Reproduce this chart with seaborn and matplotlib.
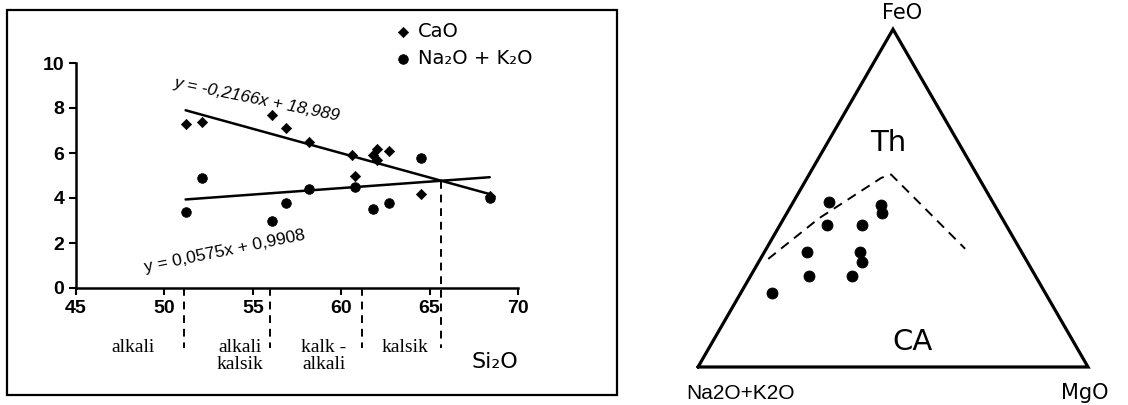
import numpy as np
import pandas as pd
import matplotlib
matplotlib.use("Agg")
import matplotlib.pyplot as plt
import seaborn as sns
from matplotlib.patches import Rectangle

# ---------------- data (left panel) ----------------
cao_sio2 = [51.2, 52.1, 56.1, 56.9, 58.2, 60.6, 60.8, 61.8, 62.0, 62.0, 62.7, 64.5, 68.4]
cao_val = [7.3, 7.4, 7.7, 7.1, 6.5, 5.9, 5.0, 5.9, 6.2, 5.7, 6.1, 4.2, 4.1]
alk_sio2 = [51.2, 52.1, 56.1, 56.9, 58.2, 60.8, 61.8, 62.7, 64.5, 68.4]
alk_val = [3.4, 4.9, 3.0, 3.8, 4.4, 4.5, 3.5, 3.8, 5.8, 4.0]
fit_slopes = [-0.2166, 0.0575]
fit_intercepts = [18.989, 0.9908]
fit_range = [51.2, 68.4]
fit_labels = ["y = -0,2166x + 18,989", "y = 0,0575x + 0,9908"]
boundaries = [51.1, 56.0, 61.2]
series_names = ["CaO", "Na\u2082O + K\u2082O"]
class_names = ["alkali", "alkali\nkalsik", "kalk -\nalkali", "kalsik"]
class_pos = [48.2, 54.3, 59.0, 63.6]
x_ticks = [45, 50, 55, 60, 65, 70]
y_ticks = [0, 2, 4, 6, 8, 10]

# ---------------- data (ternary AFM) ----------------
tern_A = [42, 46, 37, 29, 30, 55, 41.5, 42.5, 58, 47, 70]
tern_F = [49, 42, 42, 48, 45.5, 34, 34, 31, 27, 27, 22]
tern_M = [9, 12, 21, 23, 24.5, 11, 24.5, 26.5, 15, 26, 8]
bound_A = [66, 47, 25, 22, 14]
bound_F = [32, 44, 56, 57, 35]
bound_M = [2, 9, 19, 21, 51]
vertex_names = ["Na2O+K2O", "MgO", "FeO"]
field_names = ["Th", "CA"]

sns.set_style("ticks")
plt.rcParams['font.family'] = ['Liberation Sans', 'DejaVu Sans']
plt.rcParams['text.color'] = 'black'
plt.rcParams['axes.labelcolor'] = 'black'
plt.rcParams['xtick.color'] = 'black'
plt.rcParams['ytick.color'] = 'black'

fig = plt.figure(figsize=(11.28, 4.05), dpi=100)

# outer frame of left panel
fig.patches.append(Rectangle((7/1128, 1-395/405), 610/1128, 385/405,
                             transform=fig.transFigure, fill=False,
                             edgecolor='black', linewidth=1.6))

ax = fig.add_axes([76/1128, 1-288/405, 442/1128, 225/405])

df_cao = pd.DataFrame({"SiO2": cao_sio2, "val": cao_val})
df_alk = pd.DataFrame({"SiO2": alk_sio2, "val": alk_val})
sns.scatterplot(data=df_cao, x="SiO2", y="val", marker="D", s=28, color="black",
                edgecolor="black", ax=ax, label=series_names[0], clip_on=False, zorder=3)
sns.scatterplot(data=df_alk, x="SiO2", y="val", marker="o", s=48, color="black",
                edgecolor="black", ax=ax, label=series_names[1], clip_on=False, zorder=3)

xs = np.array(fit_range)
for m, b in zip(fit_slopes, fit_intercepts):
    sns.lineplot(x=xs, y=m * xs + b, color="black", lw=1.8, ax=ax)

# intersection of the two fits
xi = (fit_intercepts[1] - fit_intercepts[0]) / (fit_slopes[0] - fit_slopes[1])
yi = fit_slopes[0] * xi + fit_intercepts[0]
ybot = -2.65
for bx in boundaries:
    ax.plot([bx, bx], [0, ybot], ls=(0, (4, 3)), color="black", lw=1.4, clip_on=False)
ax.plot([xi, xi], [yi, ybot], ls=(0, (4, 3)), color="black", lw=1.4, clip_on=False)

ax.text(55.24, 8.4, fit_labels[0], rotation=-11.5, ha="center", va="center",
        fontsize=12.5, style="italic", color="black")
ax.text(53.43, 1.64, fit_labels[1], rotation=11.5, ha="center", va="center",
        fontsize=12.5, color="black")

for name, px in zip(class_names, class_pos):
    ax.text(px, -2.25, name, ha="center", va="top", fontsize=14,
            family="Liberation Serif", linespacing=1.0, color="black")
ax.text(68.7, -3.3, "Si\u2082O", ha="center", va="center", fontsize=16,
        family="DejaVu Sans", color="black")

ax.set_xlim(45, 70)
ax.set_ylim(0, 10)
ax.set_xticks(x_ticks)
ax.set_yticks(y_ticks)
ax.set_xlabel("")
ax.set_ylabel("")
ax.tick_params(axis="both", direction="out", length=5, width=1.5, labelsize=14,
               colors="black")
for lab in ax.get_xticklabels() + ax.get_yticklabels():
    lab.set_fontweight("bold")
sns.despine(ax=ax)
for sp in ["left", "bottom"]:
    ax.spines[sp].set_linewidth(1.8)
    ax.spines[sp].set_color("black")

leg = ax.legend(loc="upper left", bbox_to_anchor=(0.695, 1.225), frameon=False,
                handletextpad=0.3, labelspacing=0.4, borderpad=0, handlelength=1.0,
                prop={"family": "DejaVu Sans", "size": 14})
for t in leg.get_texts():
    t.set_color("black")

# ---------------- ternary panel ----------------
ax2 = fig.add_axes([680/1128, 0, 430/1128, 1])
ax2.set_xlim(-18/390, 412/390)
ax2.set_ylim(-38/390, 367/390)
ax2.axis("off")

h = np.sqrt(3) / 2
tri_x = [0, 1, 0.5, 0]
tri_y = [0, 0, h, 0]
ax2.plot(tri_x, tri_y, color="black", lw=2.3, solid_joinstyle="miter")

def to_xy(A, F, M):
    A, F, M = map(np.asarray, (A, F, M))
    tot = A + F + M
    f = F / tot
    m = M / tot
    return m + f / 2, f * h

bx, by = to_xy(bound_A, bound_F, bound_M)
sns.lineplot(x=bx, y=by, sort=False, color="black", lw=1.4, ax=ax2,
             linestyle=(0, (5, 3.5)))
px, py = to_xy(tern_A, tern_F, tern_M)
sns.scatterplot(x=px, y=py, s=62, color="black", edgecolor="black", ax=ax2, zorder=3)

ax2.text(0.522, 0.908, vertex_names[2], ha="center", va="center", fontsize=15,
         family="DejaVu Sans", color="black")
ax2.text(0.108, -0.067, vertex_names[0], ha="center", va="center", fontsize=15,
         color="black")
ax2.text(0.992, -0.067, vertex_names[1], ha="center", va="center", fontsize=15,
         family="DejaVu Sans", color="black")
ax2.text(0.487, 0.574, field_names[0], ha="center", va="center", fontsize=21,
         family="DejaVu Sans", color="black")
ax2.text(0.551, 0.064, field_names[1], ha="center", va="center", fontsize=21,
         family="DejaVu Sans", color="black")

fig.savefig("out.png", dpi=100)
